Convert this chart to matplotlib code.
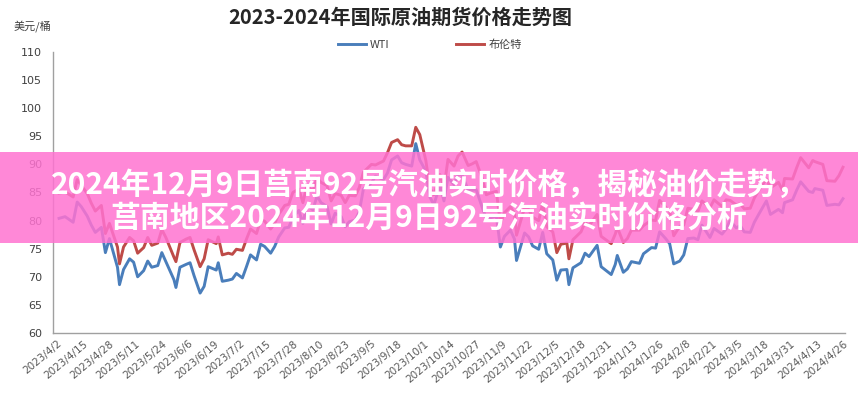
import matplotlib
matplotlib.use("Agg")
import matplotlib.pyplot as plt
import pandas as pd
from matplotlib.patches import Rectangle

plt.rcParams['font.family'] = ['Noto Sans CJK SC', 'DejaVu Sans']

# ---------------- data ----------------
dates = [
    "2023-04-03", "2023-04-05", "2023-04-06", "2023-04-10", "2023-04-12", "2023-04-14",
    "2023-04-17", "2023-04-19", "2023-04-21", "2023-04-24", "2023-04-26", "2023-04-28",
    "2023-05-02", "2023-05-03", "2023-05-05", "2023-05-08", "2023-05-10", "2023-05-12",
    "2023-05-15", "2023-05-17", "2023-05-19", "2023-05-22", "2023-05-24", "2023-05-26",
    "2023-05-30", "2023-05-31", "2023-06-02", "2023-06-05", "2023-06-07", "2023-06-09",
    "2023-06-12", "2023-06-14", "2023-06-16", "2023-06-20", "2023-06-21", "2023-06-23",
    "2023-06-26", "2023-06-28", "2023-06-30", "2023-07-03", "2023-07-05", "2023-07-07",
    "2023-07-10", "2023-07-12", "2023-07-14", "2023-07-17", "2023-07-19", "2023-07-21",
    "2023-07-24", "2023-07-26", "2023-07-28", "2023-07-31", "2023-08-02", "2023-08-04",
    "2023-08-07", "2023-08-09", "2023-08-11", "2023-08-14", "2023-08-16", "2023-08-18",
    "2023-08-21", "2023-08-23", "2023-08-25", "2023-08-28", "2023-08-30", "2023-09-01",
    "2023-09-05", "2023-09-07", "2023-09-11", "2023-09-13", "2023-09-15", "2023-09-18",
    "2023-09-20", "2023-09-22", "2023-09-25", "2023-09-27", "2023-09-29", "2023-10-02",
    "2023-10-04", "2023-10-06", "2023-10-09", "2023-10-11", "2023-10-13", "2023-10-16",
    "2023-10-18", "2023-10-20", "2023-10-23", "2023-10-25", "2023-10-27", "2023-10-30",
    "2023-11-01", "2023-11-03", "2023-11-06", "2023-11-08", "2023-11-10", "2023-11-13",
    "2023-11-15", "2023-11-16", "2023-11-20", "2023-11-22", "2023-11-24", "2023-11-27",
    "2023-11-29", "2023-12-01", "2023-12-04", "2023-12-06", "2023-12-08", "2023-12-11",
    "2023-12-12", "2023-12-14", "2023-12-18", "2023-12-20", "2023-12-22", "2023-12-26",
    "2023-12-28", "2024-01-02", "2024-01-04", "2024-01-05", "2024-01-08", "2024-01-10",
    "2024-01-12", "2024-01-16", "2024-01-18", "2024-01-22", "2024-01-24", "2024-01-26",
    "2024-01-29", "2024-01-31", "2024-02-02", "2024-02-05", "2024-02-07", "2024-02-09",
    "2024-02-12", "2024-02-14", "2024-02-16", "2024-02-20", "2024-02-22", "2024-02-26",
    "2024-02-28", "2024-03-01", "2024-03-04", "2024-03-06", "2024-03-08", "2024-03-11",
    "2024-03-13", "2024-03-15", "2024-03-19", "2024-03-21", "2024-03-25", "2024-03-27",
    "2024-03-28", "2024-04-01", "2024-04-03", "2024-04-05", "2024-04-09", "2024-04-11",
    "2024-04-12", "2024-04-16", "2024-04-18", "2024-04-22", "2024-04-24", "2024-04-26",
]

wti = [
    80.4, 80.6, 80.7, 79.7, 83.3, 82.5,
    80.8, 79.2, 77.9, 78.8, 74.3, 76.8,
    71.7, 68.6, 71.3, 73.2, 72.6, 70.0,
    71.1, 72.8, 71.7, 72.0, 74.3, 72.7,
    69.5, 68.1, 71.7, 72.2, 72.5, 70.2,
    67.1, 68.3, 71.8, 71.2, 72.5, 69.2,
    69.4, 69.6, 70.6, 69.8, 71.8, 73.9,
    73.0, 75.8, 75.4, 74.2, 75.4, 77.1,
    78.7, 78.8, 80.6, 81.8, 79.5, 82.8,
    81.9, 84.4, 83.2, 82.5, 79.4, 81.3,
    80.7, 78.9, 79.8, 80.1, 81.6, 85.6,
    86.7, 87.9, 87.3, 88.5, 90.8, 91.5,
    90.3, 90.0, 89.7, 93.7, 90.8, 88.8,
    84.2, 82.8, 86.4, 83.5, 87.7, 86.4,
    88.3, 88.1, 85.5, 85.4, 85.5, 82.3,
    80.4, 80.5, 80.8, 75.3, 77.2, 78.3,
    76.7, 72.9, 77.8, 77.1, 75.5, 74.9,
    77.9, 74.1, 73.0, 69.4, 71.2, 71.3,
    68.6, 71.6, 72.5, 74.2, 73.6, 75.6,
    71.8, 70.4, 72.2, 73.8, 70.8, 71.4,
    72.7, 72.4, 74.1, 75.2, 75.1, 78.0,
    76.8, 75.9, 72.3, 72.8, 73.9, 76.8,
    76.9, 76.6, 79.2, 77.0, 78.6, 77.6,
    78.5, 80.0, 78.7, 79.1, 78.0, 77.9,
    79.7, 81.0, 83.5, 81.1, 82.0, 81.4,
    83.2, 83.7, 85.4, 86.9, 85.2, 85.0,
    85.7, 85.4, 82.7, 82.9, 82.8, 83.9,
]

brent = [
    84.9, 85.0, 85.1, 84.2, 87.3, 86.3,
    84.8, 83.1, 81.7, 82.7, 77.7, 79.5,
    75.3, 72.3, 75.3, 77.0, 76.4, 74.2,
    75.2, 77.0, 75.6, 76.0, 78.4, 77.0,
    73.5, 72.7, 76.1, 76.7, 77.0, 74.8,
    71.8, 73.2, 76.6, 75.9, 77.1, 73.9,
    74.2, 74.0, 74.9, 74.7, 76.7, 78.5,
    77.7, 80.1, 79.9, 78.5, 79.5, 81.1,
    82.7, 82.9, 85.0, 85.6, 83.2, 86.2,
    85.3, 87.6, 86.8, 86.2, 83.5, 84.8,
    84.5, 83.2, 84.5, 84.4, 85.9, 88.6,
    90.0, 89.9, 90.6, 92.1, 93.9, 94.4,
    93.5, 93.3, 93.3, 96.6, 95.3, 90.7,
    85.8, 84.6, 88.2, 85.8, 90.9, 89.7,
    91.5, 92.2, 89.8, 90.1, 90.5, 87.5,
    84.6, 84.9, 85.2, 79.5, 81.4, 82.5,
    81.2, 77.4, 82.3, 82.0, 80.6, 80.0,
    83.1, 78.9, 78.0, 74.3, 75.8, 76.0,
    73.2, 76.6, 78.0, 79.7, 79.1, 81.1,
    77.2, 75.9, 77.6, 78.8, 76.1, 76.8,
    78.3, 78.3, 79.1, 80.1, 80.0, 83.6,
    82.4, 81.7, 77.3, 79.0, 79.2, 82.2,
    82.0, 81.6, 83.5, 82.3, 83.7, 82.5,
    83.7, 83.6, 82.8, 83.0, 82.1, 82.2,
    84.0, 85.3, 87.4, 85.8, 86.8, 85.4,
    87.5, 87.4, 89.4, 91.2, 89.4, 90.7,
    90.5, 90.0, 87.1, 87.0, 88.0, 89.5,
]

tick_labels = [
    "2023/4/2", "2023/4/15", "2023/4/28", "2023/5/11", "2023/5/24", "2023/6/6",
    "2023/6/19", "2023/7/2", "2023/7/15", "2023/7/28", "2023/8/10", "2023/8/23",
    "2023/9/5", "2023/9/18", "2023/10/1", "2023/10/14", "2023/10/27", "2023/11/9",
    "2023/11/22", "2023/12/5", "2023/12/18", "2023/12/31", "2024/1/13", "2024/1/26",
    "2024/2/8", "2024/2/21", "2024/3/5", "2024/3/18", "2024/3/31", "2024/4/13",
    "2024/4/26",
]
y_ticks = [60, 65, 70, 75, 80, 85, 90, 95, 100, 105, 110]

series_names = ["WTI", "布伦特"]
title = "2023-2024年国际原油期货价格走势图"
y_unit = "美元/桶"
banner_lines = ["2024年12月9日莒南92号汽油实时价格，揭秘油价走势，",
                "莒南地区2024年12月9日92号汽油实时价格分析"]

# ---------------- plot ----------------
fig = plt.figure(figsize=(8.58, 4.0), dpi=100)
ax = fig.add_axes([53 / 858, 67 / 400, 792 / 858, 281 / 400])

x = pd.to_datetime(dates)
ax.plot(x, wti, color="#4A7EBB", lw=2.1, label=series_names[0], solid_joinstyle="round")
ax.plot(x, brent, color="#BE4B48", lw=2.1, label=series_names[1], solid_joinstyle="round")

tick_dates = pd.to_datetime(tick_labels, format="%Y/%m/%d")
ax.set_xticks(tick_dates)
ax.set_xticklabels(tick_labels, rotation=40, ha="right", rotation_mode="anchor",
                   fontsize=7.5, color="#595959", family="DejaVu Sans")
ax.set_xlim(tick_dates[0] - pd.Timedelta(days=2), tick_dates[-1] + pd.Timedelta(days=1))

ax.set_ylim(60, 110)
ax.set_yticks(y_ticks)
ax.set_yticklabels([str(v) for v in y_ticks], fontsize=8, color="#404040", family="DejaVu Sans")
ax.tick_params(axis="both", length=0, pad=8)
ax.tick_params(axis="x", pad=4)

for s in ["top", "right"]:
    ax.spines[s].set_visible(False)
for s in ["left", "bottom"]:
    ax.spines[s].set_color("#A0A0A0")
    ax.spines[s].set_linewidth(1.0)

fig.text(400 / 858, 1 - 17 / 400, title, ha="center", va="center",
         fontsize=14.5, fontweight="bold", color="#262626")
fig.text(14 / 858, 1 - 26 / 400, y_unit, ha="left", va="center",
         fontsize=8, color="#404040")

leg = fig.legend(loc="center", bbox_to_anchor=(430 / 858, 1 - 45 / 400), ncol=2,
                 frameon=False, fontsize=8, handlelength=2.5, columnspacing=6,
                 handletextpad=0.4)
for t in leg.get_texts():
    t.set_color("#404040")

# pink banner overlay
fig.patches.append(Rectangle((0, 1 - 243 / 400), 1, 91 / 400, transform=fig.transFigure,
                             facecolor=(1.0, 0.45, 0.82), alpha=0.85, edgecolor="none",
                             zorder=5))
fig.text(429 / 858, 1 - 185 / 400, banner_lines[0], ha="center", va="center",
         fontsize=21.5, fontweight="bold", color="white", zorder=6)
fig.text(429 / 858, 1 - 218 / 400, banner_lines[1], ha="center", va="center",
         fontsize=21.5, fontweight="bold", color="white", zorder=6)

fig.savefig("out.png", dpi=100)
